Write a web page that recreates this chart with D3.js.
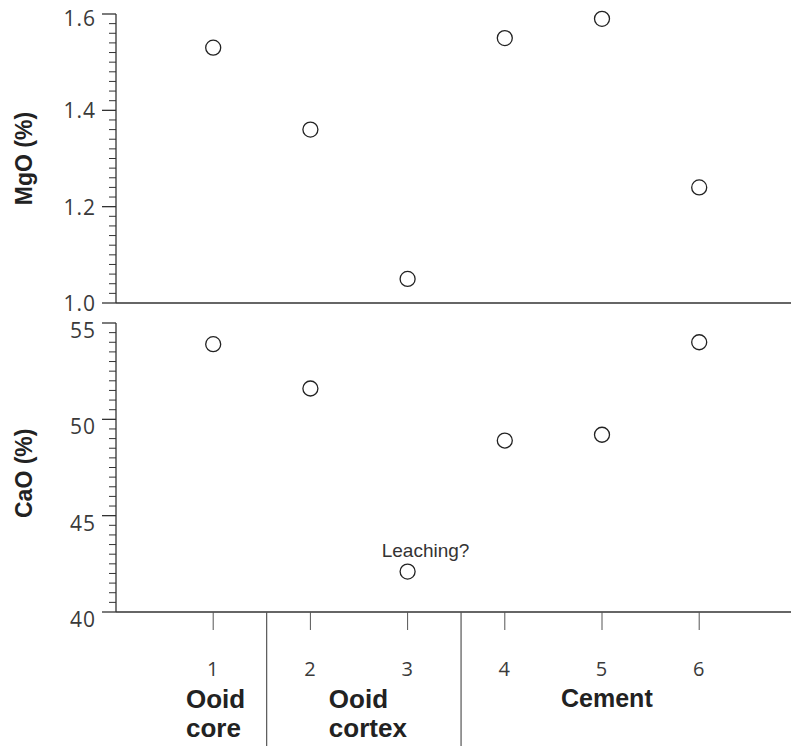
<!DOCTYPE html>
<html>
<head>
<meta charset="utf-8">
<script src="https://cdn.jsdelivr.net/npm/d3@7"></script>
<style>
  body { margin: 0; background: #fff; }
  svg { display: block; }
  .tick-label { font-family: "Open Sans", sans-serif; font-size: 21px; fill: #3a3a3a; letter-spacing: 1px; }
  .bold-label { font-family: "Liberation Sans", Arial, sans-serif; font-weight: bold; fill: #222; }
</style>
</head>
<body>
<div id="chart"></div>
<script>
// sample numbers along the x axis
const samples = [1, 2, 3, 4, 5, 6];
const mgoValues = [1.53, 1.36, 1.05, 1.55, 1.59, 1.24];
const caoValues = [53.9, 51.6, 42.1, 48.9, 49.2, 54.0];

const mgoTicks = [1.0, 1.2, 1.4, 1.6];
const caoTicks = [40, 45, 50, 55];

// component groups below the axis
const groupNames = [["Ooid", "core"], ["Ooid", "cortex"], ["Cement"]];
const groupPos = [0.72, 2.19, 5.05];
const groupAnchor = ["start", "start", "middle"];
const dividers = [1.55, 3.55];

const WIDTH = 791, HEIGHT = 746;
const LEFT = 116;

const svg = d3.select("#chart").append("svg")
    .attr("width", WIDTH)
    .attr("height", HEIGHT);

const x = d3.scaleLinear().domain([0, 7]).range([LEFT, LEFT + 97.2 * 7]);

const yMg = d3.scaleLinear().domain([1.0, 1.6]).range([303, 14]);
const yCa = d3.scaleLinear().domain([40, 55]).range([612, 323]);

function drawYAxis(scale, ticks, minorStep, fmt, labelDy) {
    const [d0, d1] = scale.domain();
    const minor = d3.range(d0, d1 + minorStep / 2, minorStep)
        .filter(v => !ticks.some(t => Math.abs(t - v) < minorStep / 4));

    const g = svg.append("g").attr("stroke", "#333").attr("stroke-width", 1.3);
    g.append("line")
        .attr("x1", LEFT).attr("x2", LEFT)
        .attr("y1", scale(d1)).attr("y2", scale(d0));
    g.selectAll("line.major").data(ticks).enter().append("line")
        .attr("class", "major")
        .attr("x1", LEFT - 14).attr("x2", LEFT)
        .attr("y1", d => scale(d)).attr("y2", d => scale(d));
    g.selectAll("line.minor").data(minor).enter().append("line")
        .attr("class", "minor")
        .attr("stroke-width", 1)
        .attr("x1", LEFT - 7).attr("x2", LEFT)
        .attr("y1", d => scale(d)).attr("y2", d => scale(d));

    svg.append("g").selectAll("text").data(ticks).enter().append("text")
        .attr("class", "tick-label")
        .attr("x", LEFT - 20)
        .attr("y", d => scale(d))
        .attr("dy", labelDy)
        .attr("text-anchor", "end")
        .text(fmt);
}

drawYAxis(yMg, mgoTicks, 0.02, d => d.toFixed(1), d => d === 1.6 ? "0.55em" : "0.38em");
drawYAxis(yCa, caoTicks, 0.5, d => d, "0.72em");

// panel baselines
svg.append("line")
    .attr("x1", LEFT).attr("x2", WIDTH)
    .attr("y1", yMg(1.0)).attr("y2", yMg(1.0))
    .attr("stroke", "#333").attr("stroke-width", 1.5);
svg.append("line")
    .attr("x1", LEFT).attr("x2", WIDTH)
    .attr("y1", yCa(40)).attr("y2", yCa(40))
    .attr("stroke", "#333").attr("stroke-width", 1.5);

// x ticks
svg.append("g").selectAll("line").data(samples).enter().append("line")
    .attr("x1", d => x(d)).attr("x2", d => x(d))
    .attr("y1", yCa(40)).attr("y2", yCa(40) + 18)
    .attr("stroke", "#555").attr("stroke-width", 1);
svg.append("g").selectAll("text").data(samples).enter().append("text")
    .attr("class", "tick-label")
    .attr("x", d => x(d))
    .attr("y", 676)
    .attr("text-anchor", "middle")
    .style("font-size", "20px")
    .text(d => d);

// dividers between groups
svg.append("g").selectAll("line").data(dividers).enter().append("line")
    .attr("x1", d => x(d)).attr("x2", d => x(d))
    .attr("y1", yCa(40)).attr("y2", HEIGHT)
    .attr("stroke", "#555").attr("stroke-width", 1.2);

// group labels
groupNames.forEach((lines, i) => {
    const t = svg.append("text")
        .attr("class", "bold-label")
        .attr("x", x(groupPos[i]))
        .attr("y", lines.length > 1 ? 708 : 707)
        .attr("text-anchor", groupAnchor[i])
        .style("font-size", lines.length > 1 ? "26px" : "25px");
    t.selectAll("tspan").data(lines).enter().append("tspan")
        .attr("x", x(groupPos[i]))
        .attr("dy", (d, j) => j ? "1.12em" : 0)
        .text(d => d);
});

// y axis titles
svg.append("text")
    .attr("class", "bold-label")
    .attr("transform", `translate(32, ${yMg(1.3)}) rotate(-90)`)
    .attr("text-anchor", "middle")
    .style("font-size", "23px")
    .text("MgO (%)");
svg.append("text")
    .attr("class", "bold-label")
    .attr("transform", `translate(32, ${yCa(47.2)}) rotate(-90)`)
    .attr("text-anchor", "middle")
    .style("font-size", "23px")
    .text("CaO (%)");

// points
svg.append("g").selectAll("circle").data(samples).enter().append("circle")
    .attr("cx", d => x(d))
    .attr("cy", (d, i) => yMg(mgoValues[i]))
    .attr("r", 7.5)
    .attr("fill", "#fff")
    .attr("stroke", "#222")
    .attr("stroke-width", 1.3);
svg.append("g").selectAll("circle").data(samples).enter().append("circle")
    .attr("cx", d => x(d))
    .attr("cy", (d, i) => yCa(caoValues[i]))
    .attr("r", 7.5)
    .attr("fill", "#fff")
    .attr("stroke", "#222")
    .attr("stroke-width", 1.3);

// annotation
svg.append("text")
    .attr("x", x(3) + 18)
    .attr("y", yCa(caoValues[2]) - 15)
    .attr("text-anchor", "middle")
    .style("font-family", "'Liberation Sans', Arial, sans-serif")
    .style("font-size", "19px")
    .attr("fill", "#333")
    .text("Leaching?");
</script>
</body>
</html>
